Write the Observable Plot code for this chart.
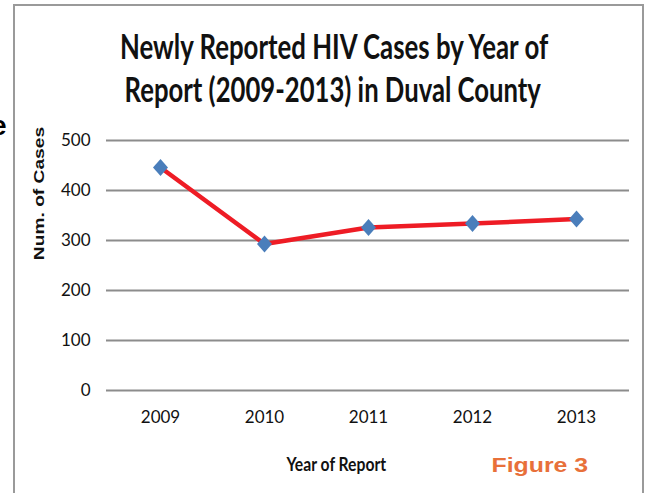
<!DOCTYPE html>
<html>
<head>
<meta charset="utf-8">
<script src="https://cdn.jsdelivr.net/npm/d3@7"></script>
<script src="https://cdn.jsdelivr.net/npm/@observablehq/plot@0.6"></script>
<style>
  html, body { margin: 0; padding: 0; background: #fff; }
  #wrap { position: relative; width: 649px; height: 493px; overflow: hidden; background: #fff; }
  #frame { position: absolute; left: 13px; top: 4px; width: 627px; height: 520px; border: 2px solid #9a9a9a; }
  .abs { position: absolute; white-space: nowrap; line-height: 1; }
  .title { font-family: Lato, 'Open Sans', sans-serif; font-weight: bold; font-size: 34px; color: #111; }
  #chart { position: absolute; left: 0; top: 0; }
</style>
</head>
<body>
<div id="wrap">
  <div class="abs" style="left:-9px;top:112px;font-family:'Liberation Sans',sans-serif;font-weight:bold;font-size:28px;color:#000">e</div>
  <div id="frame"></div>
  <div id="chart"></div>
  <div class="abs title fit" data-w="428" data-cx="334" data-cy="46">Newly Reported HIV Cases by Year of</div>
  <div class="abs title fit" data-w="416" data-cx="332" data-cy="89">Report (2009-2013) in Duval County</div>
  <div class="abs fit" data-w="133" data-cx="38" data-cy="193" data-rot="1" style="font-family:'Liberation Sans',sans-serif;font-weight:bold;font-size:15px;color:#111">Num. of Cases</div>
  <div class="abs fit" data-w="100" data-cx="336" data-cy="463" style="font-family:Lato,sans-serif;font-weight:bold;font-size:19px;color:#111">Year of Report</div>
  <div class="abs fit" data-w="97" data-cx="540" data-cy="464" style="font-family:'Liberation Sans',sans-serif;font-weight:bold;font-size:21px;color:#E8703A">Figure 3</div>
</div>
<script>
// Data
const years = ["2009", "2010", "2011", "2012", "2013"];
const cases = [446, 293, 326, 334, 343];
const yTicks = [0, 100, 200, 300, 400, 500];

const data = years.map((y, i) => ({year: y, cases: cases[i]}));

// Excel-style diamond marker (slightly taller than wide)
const excelDiamond = {
  draw(context, size) {
    const r = Math.sqrt(size / Math.PI);
    const w = r * 0.88;
    context.moveTo(0, -r);
    context.lineTo(w, 0);
    context.lineTo(0, r);
    context.lineTo(-w, 0);
    context.closePath();
  }
};

const chart = Plot.plot({
  width: 649,
  height: 493,
  marginLeft: 106,
  marginRight: 20,
  marginTop: 140,
  marginBottom: 103,
  style: {fontFamily: "Lato, 'Open Sans', sans-serif", fontSize: "17px", color: "#111", background: "transparent"},
  x: {type: "point", domain: years, padding: 0.5, label: null},
  y: {domain: [0, 500], label: null},
  marks: [
    Plot.ruleY(yTicks, {stroke: "#8c8c8c", strokeWidth: 2}),
    Plot.axisY({ticks: yTicks, tickSize: 0, tickPadding: 16, label: null}),
    Plot.axisX({tickSize: 0, tickPadding: 20, label: null}),
    Plot.line(data, {x: "year", y: "cases", stroke: "#EE1C25", strokeWidth: 4.5}),
    Plot.dot(data, {x: "year", y: "cases", symbol: excelDiamond, r: 8.5, fill: "#4A7EBB", stroke: "none"})
  ]
});
document.getElementById("chart").appendChild(chart);

// Fit the text labels to the reference's widths (the reference is a stretched image)
document.querySelectorAll(".fit").forEach(el => {
  const w = el.offsetWidth, h = el.offsetHeight;
  const s = (+el.dataset.w) / w;
  el.style.left = (+el.dataset.cx - w / 2) + "px";
  el.style.top = (+el.dataset.cy - h / 2) + "px";
  el.style.transformOrigin = "center center";
  el.style.transform = (el.dataset.rot ? "rotate(-90deg) " : "") + "scaleX(" + s + ")";
});
</script>
</body>
</html>
